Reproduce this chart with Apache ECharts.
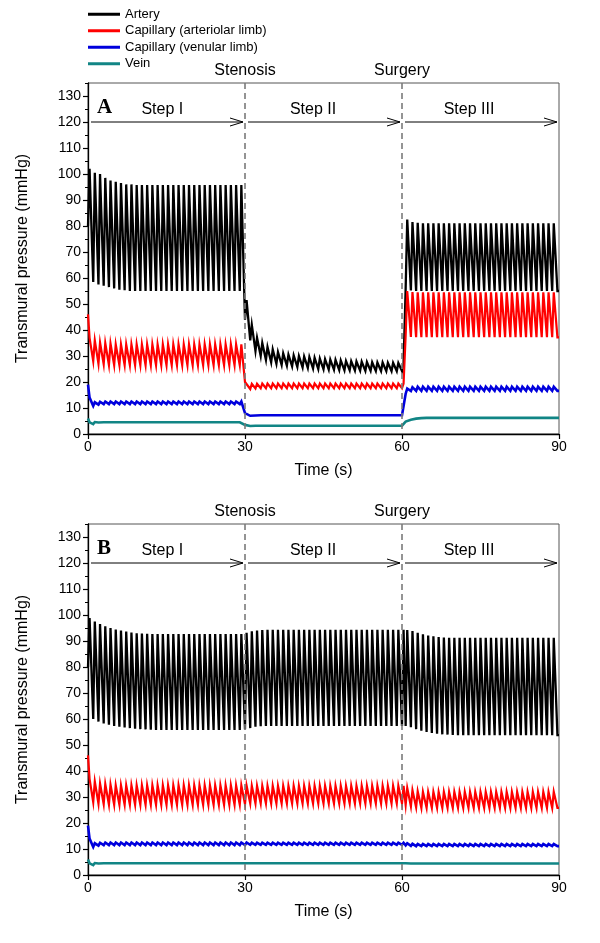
<!DOCTYPE html>
<html><head><meta charset="utf-8">
<script src="https://cdn.jsdelivr.net/npm/echarts@6/dist/echarts.min.js"></script>
<style>html,body{margin:0;padding:0;background:#fff}#c{width:600px;height:943px}</style>
</head><body><div id="c"></div>
<script>
// ---------- data ----------
const seriesNames = ['Artery', 'Capillary (arteriolar limb)', 'Capillary (venular limb)', 'Vein'];
const seriesColors = ['#000000', '#ff0000', '#0000dd', '#118585'];
const panelLetters = ['A', 'B'];
const stepNames = ['Step I', 'Step II', 'Step III'];
const eventNames = ['Stenosis', 'Surgery'];
const eventTimes = [30, 60];
const stepBounds = [0, 30, 60, 90];
const stepOnsets = [0, 30, 60.7];      // time each step's first beat starts (s)
const beatPeriod = 1.0;                // s
const timeEnd = 90;
const xTickValues = [0, 30, 60, 90];
const yTickValues = [0, 10, 20, 30, 40, 50, 60, 70, 80, 90, 100, 110, 120, 130];
const arrowLevel = 120;

// per-beat peak / trough values for each step (last value holds for the remaining beats)
// Panel A
const A_arteryPeaks = [
  [102, 100.5, 100, 98.5, 97.5, 97, 96.5, 96, 96, 95.8],
  [51.5, 42, 37, 35, 33.5, 32.5, 31.5, 31, 30.5, 30.2, 30, 29.8, 29.6, 29.3, 29, 28.8, 28.6, 28.5, 28.3, 28.1, 28, 27.9, 27.8, 27.7, 27.6, 27.5, 27.5, 27.4, 27.4, 27.3],
  [82.5, 81.5, 81.2, 81]
];
const A_arteryTroughs = [
  [80, 58.5, 57.5, 57, 56.5, 56, 55.5, 55.3, 55, 55],
  [44, 36, 32, 30, 28.5, 27.6, 27, 26.6, 26.3, 26, 25.8, 25.6, 25.4, 25.2, 25, 24.9, 24.8, 24.7, 24.6, 24.5, 24.5, 24.4, 24.4, 24.3, 24.3, 24.2],
  [56, 55.2, 55]
];
const A_capArtPeaks = [[37, 36, 35.2, 35, 34.8, 34.5], [20.5, 19.3, 19.3, 19.4], [55, 54.6, 54.5]];
const A_capArtTroughs = [[46, 28, 27, 26.8, 26.5], [20, 17.3, 17.5, 17.6], [38, 37.3, 37.2]];
const A_capVenPeaks = [[14, 12.2, 12.4, 12.5], [8.2, 7.7, 7.8], [17.5, 18, 18.2]];
const A_capVenTroughs = [[19, 10.8, 11.3, 11.5], [8, 7, 7.1, 7.2], [15.5, 16.5, 16.6]];
const A_veinPeaks = [[4.5, 4.6, 4.9, 5.0], [3.6, 3.5, 3.5], [5.4, 6, 6.3, 6.5, 6.6]];
const A_veinTroughs = [[6, 3.8, 4.4, 4.5], [3.5, 3.1, 3.2], [4.8, 5.5, 5.9, 6.1, 6.2]];
// Panel B
const B_arteryPeaks = [
  [98.8, 97.5, 96.5, 95.7, 95, 94.4, 94, 93.6, 93.3, 93, 92.9, 92.8, 92.7],
  [93.2, 93.7, 94, 94.2, 94.3],
  [94.2, 93.8, 93.2, 92.6, 92.1, 91.8, 91.5, 91.3, 91.2]
];
const B_arteryTroughs = [
  [80, 60, 59, 58.3, 57.8, 57.3, 57, 56.7, 56.5, 56.3, 56.1, 56, 55.9, 55.8],
  [56, 56.5, 57, 57.2, 57.3],
  [57.3, 56.8, 56.1, 55.5, 55, 54.6, 54.3, 54.1, 54, 53.9, 53.8]
];
const B_capArtPeaks = [[37, 36, 35.2, 35, 34.8, 34.5], [34.4, 34.3], [33.5, 32.6, 32.2, 32]];
const B_capArtTroughs = [[46, 28, 27.4, 27.2, 27], [27.2, 27.5], [27, 26.4, 26, 25.8]];
const B_capVenPeaks = [[14, 12.2, 12.4, 12.5], [12.5, 12.4], [12.2, 12, 11.9]];
const B_capVenTroughs = [[19, 10.8, 11.3, 11.5], [11.5, 11.6], [11.4, 11.2, 11.1]];
const B_veinPeaks = [[4.5, 4.6, 4.9, 5.0], [5.0, 5.0], [4.9, 4.8]];
const B_veinTroughs = [[6, 3.8, 4.4, 4.5], [4.5, 4.5], [4.5, 4.4]];

// ---------- build beat-by-beat polylines ----------
function buildWave(peaks, troughs) {
  const pts = [];
  for (let s = 0; s < 3; s++) {
    const start = stepOnsets[s];
    const end = s < 2 ? stepOnsets[s + 1] : timeEnd;
    for (let i = 0; ; i++) {
      const t = start + i * beatPeriod;
      if (t >= end - 1e-6) break;
      const p = peaks[s][Math.min(i, peaks[s].length - 1)];
      const tr = troughs[s][Math.min(i, troughs[s].length - 1)];
      pts.push([t, tr]);
      const tp = t + 0.3 * beatPeriod;
      if (tp < end) pts.push([tp, p]);
    }
  }
  const lastT = troughs[2];
  pts.push([timeEnd, lastT[lastT.length - 1]]);
  return pts;
}

const panels = [
  [[A_arteryPeaks, A_arteryTroughs], [A_capArtPeaks, A_capArtTroughs], [A_capVenPeaks, A_capVenTroughs], [A_veinPeaks, A_veinTroughs]],
  [[B_arteryPeaks, B_arteryTroughs], [B_capArtPeaks, B_capArtTroughs], [B_capVenPeaks, B_capVenTroughs], [B_veinPeaks, B_veinTroughs]]
];

const FONT = '"Liberation Sans", Arial, sans-serif';
const gridTops = [83, 524];
const stepLabelAt = [14.2, 43, 72.8];
const lineWidths = [2.3, 2.2, 2.6, 2.6];

const grids = [], xAxes = [], yAxes = [], series = [];
panels.forEach((panel, g) => {
  grids.push({ left: 88, top: gridTops[g], width: 471, height: 351, show: true, borderColor: '#555', borderWidth: 1, backgroundColor: 'transparent' });
  xAxes.push({
    type: 'value', gridIndex: g, min: 0, max: 90, interval: 30,
    name: 'Time (s)', nameLocation: 'middle', nameGap: 29,
    nameTextStyle: { fontFamily: FONT, fontSize: 16, color: '#000' },
    axisLine: { show: true, onZero: false, lineStyle: { color: '#000', width: 1.3 } },
    axisTick: { show: true, length: 5, lineStyle: { color: '#000', width: 1.2 } },
    axisLabel: { fontFamily: FONT, fontSize: 14, color: '#000', margin: 6 },
    splitLine: { show: false }
  });
  yAxes.push({
    type: 'value', gridIndex: g, min: 0, max: 135, interval: 5,
    name: 'Transmural pressure (mmHg)', nameLocation: 'middle', nameGap: 57, nameRotate: 90,
    nameTextStyle: { fontFamily: FONT, fontSize: 16, color: '#000' },
    axisLine: { show: true, onZero: false, lineStyle: { color: '#000', width: 1.3 } },
    axisTick: { show: true, length: 5, customValues: yTickValues, lineStyle: { color: '#000', width: 1.2 } },
    axisLabel: { fontFamily: FONT, fontSize: 14, color: '#000', margin: 7, customValues: yTickValues },
    splitLine: { show: false }
  });
  // minor ticks overlay axis
  yAxes.push({
    type: 'value', gridIndex: g, min: 0, max: 135, interval: 5, position: 'left',
    axisLine: { show: false }, axisLabel: { show: false }, splitLine: { show: false },
    axisTick: { show: true, length: 3, lineStyle: { color: '#000', width: 1 } }
  });
  panel.forEach((pair, k) => {
    series.push({
      type: 'line', name: seriesNames[k], xAxisIndex: g, yAxisIndex: 2 * g,
      data: buildWave(pair[0], pair[1]), showSymbol: false, symbol: 'none',
      lineStyle: { color: seriesColors[k], width: lineWidths[k], join: 'miter' },
      itemStyle: { color: seriesColors[k] }, animation: false, z: 3 + k
    });
  });
  // event dashed lines and labels
  series.push({
    type: 'custom', xAxisIndex: g, yAxisIndex: 2 * g, z: 10, silent: true, animation: false,
    data: eventTimes.map((t, i) => [t, i]),
    renderItem: (params, api) => {
      const t = api.value(0), i = api.value(1);
      const top = api.coord([t, 135]), bot = api.coord([t, 0]);
      return { type: 'group', children: [
        { type: 'line', shape: { x1: top[0], y1: top[1], x2: bot[0], y2: bot[1] },
          style: { stroke: '#7a7a7a', lineWidth: 1.6, lineDash: [6, 4] } },
        { type: 'text', style: { text: eventNames[i], x: top[0], y: top[1] - 4, textAlign: 'center', textVerticalAlign: 'bottom',
          font: '16px ' + FONT, fill: '#000' } }
      ] };
    }
  });
  // step arrows
  series.push({
    type: 'custom', xAxisIndex: g, yAxisIndex: 2 * g, z: 11, silent: true, animation: false,
    data: stepNames.map((n, i) => [stepBounds[i], stepBounds[i + 1], i]),
    renderItem: (params, api) => {
      const x1 = api.value(0), x2 = api.value(1), i = api.value(2);
      const p1 = api.coord([x1, arrowLevel]), p2 = api.coord([x2, arrowLevel]);
      const lab = api.coord([stepLabelAt[i], arrowLevel]);
      const ex = p2[0] - 2;
      return { type: 'group', children: [
        { type: 'line', shape: { x1: p1[0] + 3, y1: p1[1], x2: ex, y2: p2[1] }, style: { stroke: '#000', lineWidth: 1 } },
        { type: 'polyline', shape: { points: [[ex - 13, p2[1] - 4], [ex, p2[1]], [ex - 13, p2[1] + 4]] }, style: { stroke: '#000', fill: null, lineWidth: 1 } },
        { type: 'text', style: { text: stepNames[i], x: lab[0], y: lab[1] - 4, textAlign: 'center', textVerticalAlign: 'bottom', font: '16px ' + FONT, fill: '#000' } }
      ] };
    }
  });
  // panel letter
  series.push({
    type: 'custom', xAxisIndex: g, yAxisIndex: 2 * g, z: 11, silent: true, animation: false,
    data: [[0, 125.5]],
    renderItem: (params, api) => {
      const p = api.coord([api.value(0), api.value(1)]);
      return { type: 'text', style: { text: panelLetters[g], x: p[0] + 9, y: p[1], textAlign: 'left', textVerticalAlign: 'middle',
        font: 'bold 21px "Liberation Serif", "DejaVu Serif", serif', fill: '#000' } };
    }
  });
});

const chart = echarts.init(document.getElementById('c'), null, { renderer: 'canvas' });
chart.setOption({
  backgroundColor: '#fff',
  animation: false,
  legend: {
    data: seriesNames, orient: 'vertical', left: 88, top: 7, padding: 0, icon: 'rect', itemWidth: 32, itemHeight: 3, itemGap: 2,
    textStyle: { fontFamily: FONT, fontSize: 13, color: '#000', lineHeight: 14.5 },
    selectedMode: false
  },
  grid: grids, xAxis: xAxes, yAxis: yAxes, series: series
});
</script></body></html>
